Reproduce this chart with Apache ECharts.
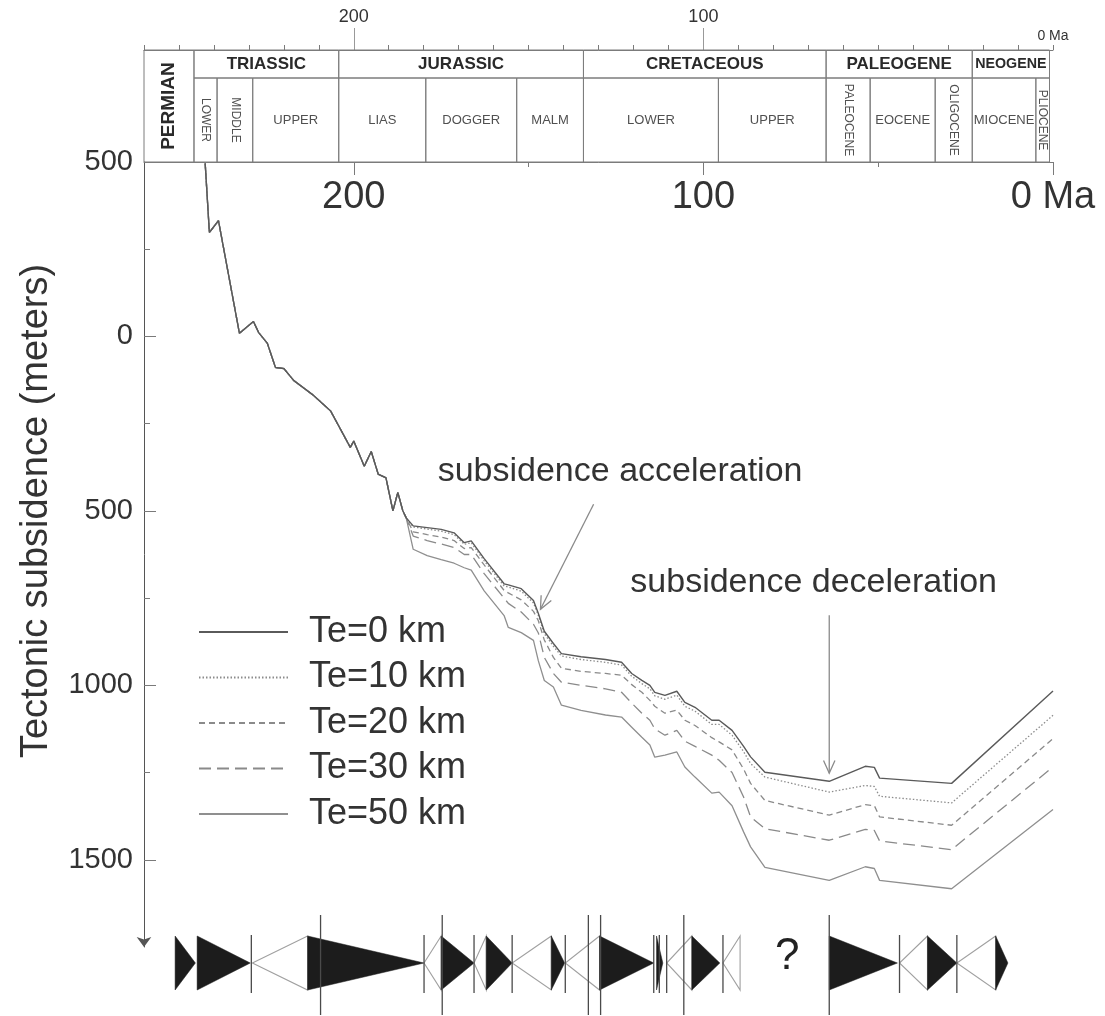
<!DOCTYPE html>
<html>
<head>
<meta charset="utf-8">
<script src="https://cdn.jsdelivr.net/npm/echarts@6/dist/echarts.min.js"></script>
<style>html,body{margin:0;padding:0;background:#fff}#c{width:1105px;height:1016px}</style>
</head>
<body>
<div id="c"></div>
<script>
// ---------------- DATA ----------------
const ages = [242.5, 241.3, 238.7, 232.7, 228.7, 227.2, 224.7, 222.4, 220.0, 217.2,
  211.5, 206.6, 202.5, 201.0, 200.0, 197.0, 195.0, 193.0, 190.8, 188.8,
  187.4, 186.0, 185.0, 183.0, 179.0, 175.0, 171.3, 168.4, 166.4, 162.7,
  157.0, 155.8, 152.1, 148.6, 147.2, 145.5, 142.9, 140.6, 135.0, 128.0,
  123.4, 120.5, 117.6, 115.3, 113.9, 111.0, 107.6, 105.3, 102.4, 97.6,
  95.5, 91.8, 88.5, 86.5, 82.4, 64.0, 53.7, 51.1, 49.6, 29.0, 0.0];

const te0 = [-496, -298, -332, -9, -43, -11, 20, 89, 92, 126,
  169, 214, 290, 318, 300, 372, 330, 395, 405, 500,
  447, 499, 520, 543, 548, 553, 563, 591, 586, 637,
  709, 712, 723, 757, 794, 845, 880, 909, 918, 926,
  934, 966, 986, 1000, 1020, 1029, 1017, 1049, 1063, 1100,
  1100, 1129, 1175, 1205, 1249, 1275, 1232, 1235, 1266, 1281, 1016];

const te10 = [-496, -298, -332, -9, -43, -11, 20, 89, 92, 126,
  169, 214, 290, 318, 300, 372, 330, 395, 405, 500,
  447, 499, 520, 546, 552, 558, 568, 596, 591, 643,
  715, 718, 730, 764, 800, 852, 888, 916, 926, 934,
  942, 974, 995, 1010, 1030, 1040, 1028, 1060, 1074, 1112,
  1112, 1143, 1190, 1224, 1263, 1306, 1287, 1290, 1318, 1337, 1086];

const te20 = [-496, -298, -332, -9, -43, -11, 20, 89, 92, 126,
  169, 214, 290, 318, 300, 372, 330, 395, 405, 500,
  447, 499, 520, 560, 568, 575, 585, 608, 605, 655,
  728, 735, 755, 788, 815, 870, 920, 951, 960, 966,
  971, 998, 1020, 1043, 1060, 1080, 1071, 1100, 1115, 1150,
  1162, 1185, 1240, 1281, 1330, 1372, 1342, 1345, 1377, 1401, 1153];

const te30 = [-496, -298, -332, -9, -43, -11, 20, 89, 92, 126,
  169, 214, 290, 318, 300, 372, 330, 395, 405, 500,
  447, 499, 520, 572, 585, 595, 605, 625, 625, 680,
  750, 765, 790, 825, 850, 920, 966, 991, 1000, 1010,
  1020, 1051, 1080, 1100, 1125, 1143, 1129, 1160, 1175, 1200,
  1215, 1250, 1320, 1377, 1411, 1444, 1413, 1416, 1446, 1471, 1234];

const te50 = [-496, -298, -332, -9, -43, -11, 20, 89, 92, 126,
  169, 214, 290, 318, 300, 372, 330, 395, 405, 500,
  447, 499, 520, 610, 628, 640, 650, 663, 670, 729,
  800, 834, 849, 871, 930, 986, 1005, 1057, 1072, 1085,
  1091, 1120, 1149, 1171, 1206, 1200, 1191, 1234, 1263, 1309,
  1306, 1345, 1420, 1463, 1522, 1559, 1520, 1525, 1559, 1583, 1356];

const seriesNames = ['Te=0 km', 'Te=10 km', 'Te=20 km', 'Te=30 km', 'Te=50 km'];

// Geological time scale (Ma)
const periodNames = ['PERMIAN', 'TRIASSIC', 'JURASSIC', 'CRETACEOUS', 'PALEOGENE', 'NEOGENE'];
const periodStart = [260, 245.7, 204.3, 134.3, 64.9, 23.1];
const periodEnd   = [245.7, 204.3, 134.3, 64.9, 23.1, 1];
const epochNames = ['LOWER', 'MIDDLE', 'UPPER', 'LIAS', 'DOGGER', 'MALM', 'LOWER', 'UPPER',
  'PALEOCENE', 'EOCENE', 'OLIGOCENE', 'MIOCENE', 'PLIOCENE'];
const epochStart = [245.7, 239.1, 228.9, 204.3, 179.4, 153.4, 134.3, 95.7, 64.9, 52.3, 33.7, 23.1, 4.9];
const epochEnd   = [239.1, 228.9, 204.3, 179.4, 153.4, 134.3, 95.7, 64.9, 52.3, 33.7, 23.1, 4.9, 1];

// Axis ticks / labels
const xMajorTicks = [0, 100, 200];
const xMinorTicks = [50, 150];
const yMajorTicks = [-500, 0, 500, 1000, 1500];
const yMinorTicks = [-250, 250, 750, 1250];
const headerLabelTicks = [100, 200];

// Sequence (T-R cycle) triangles: base age -> apex age
const seqBase  = [251.1, 244.8, 213.2, 213.2, 175.0, 175.0, 162.1, 162.1, 143.5, 143.5, 129.7, 129.7, 113.4, 103.3, 103.3, 89.5, 64.0, 35.9, 35.9, 16.4, 16.4];
const seqApex  = [245.3, 229.6, 229.0, 179.9, 179.9, 165.6, 165.6, 154.7, 154.7, 139.7, 139.5, 114.2, 111.6, 110.5, 95.3, 94.4, 44.5, 43.9, 27.5, 27.5, 12.9];
const seqFilled = [1, 1, 0, 1, 0, 1, 0, 1, 0, 1, 0, 1, 1, 0, 1, 0, 1, 0, 1, 0, 1];
const seqLineAge  = [229.3, 209.5, 179.9, 174.7, 165.6, 154.7, 139.5, 132.9, 129.4, 114.2, 112.6, 110.5, 105.6, 94.4, 64.0, 43.9, 27.5];
const seqLineLong = [0, 1, 0, 1, 0, 0, 0, 1, 1, 0, 0, 0, 1, 0, 1, 0, 0];
const questionAge = [76.0];

// Annotations
const annotText  = ['subsidence acceleration', 'subsidence deceleration'];
const annotAge   = [176.0, 120.9];
const annotDepth = [387, 705];
const arrowFrom  = [[131.4, 481], [64.0, 799]];
const arrowTo    = [[146.6, 782], [64.0, 1252]];

// ---------------- STYLE ----------------
const FONT = '"Liberation Sans", Arial, Helvetica, sans-serif';
const AX = '#7a7a7a';
const TXT = '#333';

const measureCtx = document.createElement('canvas').getContext('2d');
function textW(t, size, weight) {
  measureCtx.font = (weight || 'normal') + ' ' + size + 'px "Liberation Sans", Arial, sans-serif';
  return measureCtx.measureText(t).width;
}

const lineStyles = [
  { color: '#5a5a5a', width: 1.4, type: 'solid' },
  { color: '#8c8c8c', width: 1.3, type: [1.5, 2] },
  { color: '#8a8a8a', width: 1.3, type: [6, 4] },
  { color: '#8a8a8a', width: 1.3, type: [12, 6] },
  { color: '#8f8f8f', width: 1.3, type: 'solid' }
];
const seriesValues = [te0, te10, te20, te30, te50];

const lineSeries = seriesNames.map((name, k) => ({
  name: name,
  type: 'line',
  xAxisIndex: 0, yAxisIndex: 0,
  symbol: 'none',
  data: ages.map((a, i) => [a, seriesValues[k][i]]),
  lineStyle: lineStyles[k],
  itemStyle: { color: lineStyles[k].color },
  z: 5 - k,
  silent: true,
  animation: false
}));

function boxRenderer(names, starts, ends, isPeriod) {
  return function (params, api) {
    const i = params.dataIndex;
    const s = starts[i], e = ends[i];
    let full = false;
    if (isPeriod) full = !epochStart.some(v => v <= s + 1e-6 && v > e + 1e-6);
    const yTop = isPeriod ? 1 : 0.75;
    const yBot = isPeriod ? (full ? 0 : 0.75) : 0;
    const p0 = api.coord([s, yTop]);
    const p1 = api.coord([e, yBot]);
    const x = Math.min(p0[0], p1[0]), w = Math.abs(p1[0] - p0[0]);
    const y = p0[1], h = p1[1] - p0[1];
    const cx = x + w / 2, cy = y + h / 2;
    const name = names[i];
    let rot = 0, size, weight, fill;
    if (isPeriod) {
      weight = 'bold'; fill = '#2a2a2a';
      if (full) { rot = Math.PI / 2; size = 19; }
      else {
        size = 17;
        const tw = textW(name, size, 'bold');
        if (tw > w - 6) size = size * (w - 6) / tw;
      }
    } else {
      weight = 'normal'; fill = '#505050'; size = 13;
      if (textW(name, size) > w - 2) {
        rot = -Math.PI / 2;
        const tw = textW(name, 12);
        size = Math.min(12, 12 * (h - 6) / tw);
      }
    }
    return {
      type: 'group',
      children: [
        { type: 'rect', shape: { x: x, y: y, width: w, height: h },
          style: { fill: 'none', stroke: '#7d7d7d', lineWidth: 1 } },
        { type: 'text', x: cx, y: cy, rotation: rot,
          style: { text: name, x: 0, y: 0, align: 'center', verticalAlign: 'middle',
            fill: fill, fontSize: size, fontWeight: weight, fontFamily: FONT } }
      ]
    };
  };
}

const option = {
  backgroundColor: '#fff',
  animation: false,
  textStyle: { fontFamily: FONT },
  grid: [
    { left: 144, right: 52, top: 162, bottom: 69, outerBoundsMode: 'none', containLabel: false },
    { left: 144, right: 52, top: 50, height: 112, outerBoundsMode: 'none', containLabel: false },
    { left: 144, right: 52, top: 911, height: 104, outerBoundsMode: 'none', containLabel: false }
  ],
  xAxis: [
    { // main: labels and major ticks
      type: 'value', gridIndex: 0, position: 'top', min: 0, max: 260, inverse: true,
      splitLine: { show: false },
      axisLine: { show: true, onZero: false, lineStyle: { color: AX, width: 1 } },
      axisTick: { show: true, inside: true, length: 13, customValues: xMajorTicks, lineStyle: { color: AX } },
      axisLabel: { show: true, inside: true, margin: 17, customValues: xMajorTicks,
        fontSize: 38, color: TXT, fontFamily: FONT,
        formatter: v => (v === 0 ? '0 Ma' : String(v)) }
    },
    { // main: minor ticks
      type: 'value', gridIndex: 0, position: 'top', min: 0, max: 260, inverse: true,
      splitLine: { show: false }, axisLine: { show: false, onZero: false },
      axisTick: { show: true, inside: true, length: 5, customValues: xMinorTicks, lineStyle: { color: AX } },
      axisLabel: { show: false }
    },
    { // header: 10 Ma ticks
      type: 'value', gridIndex: 1, position: 'top', min: 0, max: 260, inverse: true, interval: 10,
      splitLine: { show: false },
      axisLine: { show: true, onZero: false, lineStyle: { color: AX } },
      axisTick: { show: true, length: 5, lineStyle: { color: AX } },
      axisLabel: { show: false }
    },
    { // header: labelled ticks
      type: 'value', gridIndex: 1, position: 'top', min: 0, max: 260, inverse: true,
      splitLine: { show: false }, axisLine: { show: false, onZero: false },
      axisTick: { show: true, length: 22, customValues: headerLabelTicks, lineStyle: { color: '#999' } },
      axisLabel: { show: true, margin: 24, customValues: headerLabelTicks, fontSize: 18, color: TXT, fontFamily: FONT }
    },
    { // header: 0 Ma
      type: 'value', gridIndex: 1, position: 'top', min: 0, max: 260, inverse: true,
      splitLine: { show: false }, axisLine: { show: false, onZero: false }, axisTick: { show: false },
      axisLabel: { show: true, margin: 7, customValues: [0], fontSize: 14, color: TXT, fontFamily: FONT,
        formatter: v => v + ' Ma' }
    },
    { // sequences
      type: 'value', gridIndex: 2, min: 0, max: 260, inverse: true, show: false,
      axisLine: { onZero: false }
    }
  ],
  yAxis: [
    {
      type: 'value', gridIndex: 0, position: 'left', min: -500, max: 1750, inverse: true,
      splitLine: { show: false },
      axisLine: { show: true, onZero: false, symbol: ['arrow', 'none'], symbolSize: [11, 10], lineStyle: { color: '#555', width: 1 } },
      axisTick: { show: true, inside: true, length: 12, customValues: yMajorTicks, lineStyle: { color: AX } },
      axisLabel: { show: true, margin: 11, customValues: yMajorTicks, fontSize: 29, color: TXT, fontFamily: FONT,
        formatter: v => String(Math.abs(v)) }
    },
    {
      type: 'value', gridIndex: 0, position: 'left', min: -500, max: 1750, inverse: true,
      splitLine: { show: false }, axisLine: { show: false, onZero: false },
      axisTick: { show: true, inside: true, length: 6, customValues: yMinorTicks, lineStyle: { color: AX } },
      axisLabel: { show: false }
    },
    { type: 'value', gridIndex: 1, min: 0, max: 1, show: false, axisLine: { onZero: false } },
    { type: 'value', gridIndex: 2, min: -1, max: 1, show: false, axisLine: { onZero: false } }
  ],
  legend: {
    data: seriesNames,
    orient: 'vertical', left: 193, top: 609,
    itemWidth: 89, itemHeight: 2, itemGap: 9.5,
    selectedMode: false,
    itemStyle: { opacity: 0 },
    textStyle: { fontSize: 36, color: TXT, fontFamily: FONT, padding: [0, 0, 0, 16] }
  },
  graphic: [
    { type: 'text', x: 37, y: 511, rotation: Math.PI / 2,
      style: { text: 'Tectonic subsidence (meters)', x: 0, y: 0, align: 'center', verticalAlign: 'middle',
        fontSize: 38, fill: TXT, fontFamily: FONT } }
  ],
  series: lineSeries.concat([
    { // arrows
      type: 'custom', xAxisIndex: 0, yAxisIndex: 0, clip: false, silent: true, z: 10,
      data: arrowFrom.map((f, i) => [f[0], f[1], arrowTo[i][0], arrowTo[i][1]]),
      encode: { x: [0, 2], y: [1, 3] },
      renderItem: (params, api) => {
        const p1 = api.coord([api.value(0), api.value(1)]);
        const p2 = api.coord([api.value(2), api.value(3)]);
        const ang = Math.atan2(p2[1] - p1[1], p2[0] - p1[0]);
        const L = 14, A = 0.42;
        const h1 = [p2[0] - L * Math.cos(ang - A), p2[1] - L * Math.sin(ang - A)];
        const h2 = [p2[0] - L * Math.cos(ang + A), p2[1] - L * Math.sin(ang + A)];
        const st = { stroke: '#8a8a8a', lineWidth: 1.3, fill: 'none' };
        return { type: 'group', children: [
          { type: 'line', shape: { x1: p1[0], y1: p1[1], x2: p2[0], y2: p2[1] }, style: st },
          { type: 'polyline', shape: { points: [h1, p2, h2] }, style: st }
        ] };
      }
    },
    { // annotation texts
      type: 'custom', xAxisIndex: 0, yAxisIndex: 0, clip: false, silent: true, z: 10,
      data: annotAge.map((a, i) => [a, annotDepth[i]]),
      renderItem: (params, api) => {
        const p = api.coord([api.value(0), api.value(1)]);
        return { type: 'text', x: p[0], y: p[1],
          style: { text: annotText[params.dataIndex], x: 0, y: 0, align: 'left', verticalAlign: 'middle',
            fontSize: 34, fill: TXT, fontFamily: FONT } };
      }
    },
    { // header periods
      type: 'custom', xAxisIndex: 2, yAxisIndex: 2, clip: false, silent: true,
      data: periodStart.map((s, i) => [s, periodEnd[i]]),
      encode: { x: [0, 1] },
      renderItem: boxRenderer(periodNames, periodStart, periodEnd, true)
    },
    { // header epochs
      type: 'custom', xAxisIndex: 2, yAxisIndex: 2, clip: false, silent: true,
      data: epochStart.map((s, i) => [s, epochEnd[i]]),
      encode: { x: [0, 1] },
      renderItem: boxRenderer(epochNames, epochStart, epochEnd, false)
    },
    { // sequence triangles
      type: 'custom', xAxisIndex: 5, yAxisIndex: 3, clip: false, silent: true,
      data: seqBase.map((b, i) => [b, seqApex[i]]),
      encode: { x: [0, 1] },
      renderItem: (params, api) => {
        const i = params.dataIndex;
        const b = api.coord([api.value(0), 0]);
        const a = api.coord([api.value(1), 0]);
        const H = 27;
        const pts = [[b[0], b[1] - H], [a[0], a[1]], [b[0], b[1] + H]];
        return { type: 'polygon', shape: { points: pts },
          style: seqFilled[i] ? { fill: '#1c1c1c', stroke: '#1c1c1c', lineWidth: 0.5 }
                              : { fill: 'none', stroke: '#a0a0a0', lineWidth: 1.1 } };
      }
    },
    { // sequence boundary lines
      type: 'custom', xAxisIndex: 5, yAxisIndex: 3, clip: false, silent: true, z: 3,
      data: seqLineAge.map((a, i) => [a, seqLineLong[i]]),
      renderItem: (params, api) => {
        const p = api.coord([api.value(0), 0]);
        const long = api.value(1) === 1;
        const y1 = long ? p[1] - 48 : p[1] - 28;
        const y2 = long ? p[1] + 52 : p[1] + 30;
        return { type: 'line', shape: { x1: p[0], y1: y1, x2: p[0], y2: y2 },
          style: { stroke: '#4a4a4a', lineWidth: 1.3 } };
      }
    },
    { // question mark
      type: 'custom', xAxisIndex: 5, yAxisIndex: 3, clip: false, silent: true,
      data: questionAge.map(a => [a, 0]),
      renderItem: (params, api) => {
        const p = api.coord([api.value(0), 0]);
        return { type: 'text', x: p[0], y: p[1] - 6,
          style: { text: '?', x: 0, y: 0, align: 'center', verticalAlign: 'middle',
            fontSize: 44, fill: '#222', fontFamily: FONT } };
      }
    }
  ])
};

const chart = echarts.init(document.getElementById('c'));
chart.setOption(option);
</script>
</body>
</html>
